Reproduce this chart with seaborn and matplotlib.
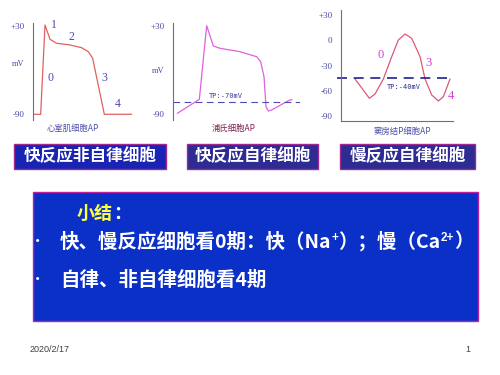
import matplotlib
matplotlib.use("Agg")
import matplotlib.pyplot as plt
import matplotlib.patches as mpatches
import seaborn as sns

# ---------------- data ----------------
# Panel 1: ventricular muscle cell AP (time ms, mV)
vent_t = [0, 23, 36, 51, 71, 111, 146, 166, 179, 214, 296]
vent_mv = [-90, -90, 31, 11.6, 6.2, 3.9, 0.2, -5.2, -14.2, -90, -90]

# Panel 2: Purkinje cell AP
purk_t = [13, 79, 101, 121, 141, 201, 251, 263, 273, 279, 286, 296, 346, 357]
purk_mv = [-88.7, -69.7, 30, 2.5, -0.6, -5.2, -12, -18.8, -39, -79.7, -85.5, -84.2, -71.6, -70]
purk_tp = -73

# Panel 3: SA node P cell AP
sa_t = [43, 86, 103, 128, 153, 173, 193, 213, 238, 253, 273, 293, 308, 328]
sa_mv = [-46, -69, -63.9, -46, -19.5, 0.3, 7.4, 2.3, -19.5, -46, -65, -72.2, -67, -46]
sa_tp = -45.2
sa_ticks = [30, 0, -30, -60, -90]
sa_ticklabels = ["+30", "0", "-30", "-60", "-90"]

panel_titles = ["心室肌细胞AP", "浦氏细胞AP", "窦房结P细胞AP"]
box_labels = ["快反应非自律细胞", "快反应自律细胞", "慢反应自律细胞"]
summary_title = "小结"
# bullet 1 pieces: (text, is_superscript)
bullet1 = [("快、慢反应细胞看0期：快（Na", False), ("+", True),
           ("）；慢（Ca", False), ("2+", True), ("）", False)]
bullet2 = "自律、非自律细胞看4期"
footer_date = "2020/2/17"
footer_page = "1"

# ---------------- setup ----------------
sns.set_style("white")
CJK = ["Noto Sans CJK SC", "DejaVu Sans"]
plt.rcParams["font.family"] = CJK

W, H = 500, 375
fig = plt.figure(figsize=(5, 3.75), dpi=100)
fig.patch.set_facecolor("white")

def rect(x0, y0, x1, y1):
    return [x0 / W, 1 - y1 / H, (x1 - x0) / W, (y1 - y0) / H]

def fx(x):
    return x / W

def fy(y):
    return 1 - y / H

AXC = "#707070"
LBL = "#4a4aa8"
SER = ["Liberation Serif", "DejaVu Serif"]

def style_axes(ax):
    for s in ["top", "right", "bottom"]:
        ax.spines[s].set_visible(False)
    ax.spines["left"].set_color(AXC)
    ax.spines["left"].set_linewidth(0.8)
    ax.set_facecolor("none")
    ax.set_xticks([])
    ax.tick_params(axis="y", direction="out", length=2, width=0.8, color=AXC,
                   labelsize=6.5, labelcolor=LBL, pad=4)
    for lab in ax.get_yticklabels():
        lab.set_family(SER)
    ax.set_xlabel("")
    ax.set_ylabel("")

# scale for panels 1-2: +30 at px 25.7, -90 at px 114.3
k = 120 / (114.3 - 25.7)
def mv12(px):
    return 30 - (px - 25.7) * k

# ---- panel 1 ----
ax1 = fig.add_axes(rect(33, 20, 136, 122))
sns.lineplot(x=vent_t, y=vent_mv, ax=ax1, color="#e06060", lw=0.9,
             sort=False, estimator=None)
ax1.set_xlim(0, (136 - 33) * 3)
ax1.set_ylim(mv12(122), mv12(20))
ax1.set_yticks([30, -90])
ax1.set_yticklabels(["+30", "-90"])
style_axes(ax1)
ax1.spines["left"].set_bounds(mv12(120), mv12(23))

for s, (x, y) in zip(["1", "2", "0", "3", "4"],
                     [(54, 25), (71, 37), (50, 78), (104, 78), (117.5, 104)]):
    fig.text(fx(x), fy(y), s, color=LBL, fontsize=8.5, family=SER,
             ha="center", va="center")
fig.text(fx(18), fy(64), "mV", color=LBL, fontsize=6, family=SER,
         ha="center", va="center")
fig.text(fx(73), fy(128), panel_titles[0], color="#5050a8", fontsize=6,
         ha="center", va="center")

# ---- panel 2 ----
ax2 = fig.add_axes(rect(173, 20, 300, 122))
sns.lineplot(x=purk_t, y=purk_mv, ax=ax2, color="#e060e0", lw=0.9,
             sort=False, estimator=None)
ax2.axhline(purk_tp, color="#4a4ab0", lw=0.8, ls=(0, (6, 4)))
ax2.set_xlim(0, (300 - 173) * 3)
ax2.set_ylim(mv12(122), mv12(20))
ax2.set_yticks([30, -90])
ax2.set_yticklabels(["+30", "-90"])
style_axes(ax2)
ax2.spines["left"].set_bounds(mv12(120), mv12(23))
fig.text(fx(209), fy(96), "TP:-70mV", color="#3a3aa0", fontsize=5,
         family=["DejaVu Sans Mono"], ha="left", va="center")
fig.text(fx(158), fy(71), "mV", color=LBL, fontsize=6, family=SER,
         ha="center", va="center")
fig.text(fx(234), fy(128), panel_titles[1], color="#802050", fontsize=6,
         ha="center", va="center")

# ---- panel 3 ----
k3 = 0.8417
def mv3(px):
    return 30 - (px - 15) / k3

ax3 = fig.add_axes(rect(340.7, 8, 462, 121))
sns.lineplot(x=sa_t, y=sa_mv, ax=ax3, color="#e05878", lw=0.9,
             sort=False, estimator=None)
ax3.axhline(sa_tp, xmin=-0.03, xmax=(453 - 340.7) / (462 - 340.7),
            color="#202090", lw=1.2, ls=(0, (6, 4)), clip_on=False)
ax3.set_xlim(0, (462 - 340.7) * 3)
ax3.set_ylim(mv3(121), mv3(8))
ax3.set_yticks(sa_ticks)
ax3.set_yticklabels(sa_ticklabels)
style_axes(ax3)
ax3.spines["left"].set_bounds(mv3(121), mv3(10))
ax3.spines["bottom"].set_visible(True)
ax3.spines["bottom"].set_color(AXC)
ax3.spines["bottom"].set_linewidth(0.8)
ax3.spines["bottom"].set_bounds(0, (453 - 340.7) * 3)
for s, (x, y) in zip(["0", "3", "4"], [(381, 55), (428, 63), (451, 96)]):
    fig.text(fx(x), fy(y), s, color="#d040d0", fontsize=9, family=SER,
             ha="center", va="center")
fig.text(fx(387), fy(87), "TP:-40mV", color="#2a2a90", fontsize=5,
         family=["DejaVu Sans Mono"], ha="left", va="center")
fig.text(fx(402), fy(131), panel_titles[2], color="#5050a8", fontsize=6,
         ha="center", va="center")

# ---------------- slide boxes ----------------
box_px = [(14, 144, 166, 169), (187, 144, 318, 169), (340, 144, 475, 169)]
box_fill = ["#1a24b2", "#2e2c92", "#2e2c92"]
for (x0, y0, x1, y1), fc, lab in zip(box_px, box_fill, box_labels):
    fig.patches.append(mpatches.Rectangle((fx(x0), fy(y1)), (x1 - x0) / W,
                                          (y1 - y0) / H, transform=fig.transFigure,
                                          facecolor=fc, edgecolor="#a02890", lw=1))
    fig.text(fx((x0 + x1) / 2), fy((y0 + y1) / 2), lab, color="white",
             fontsize=12, fontweight="bold", ha="center", va="center")

# big summary box
fig.patches.append(mpatches.Rectangle((fx(33), fy(321)), (478 - 33) / W,
                                      (321 - 192) / H, transform=fig.transFigure,
                                      facecolor="#0a30c8", edgecolor="#c020a0", lw=1))
fig.text(fx(77), fy(213), summary_title, color="#ffff40", fontsize=13,
         fontweight="bold", ha="left", va="center")
fig.text(fx(113), fy(213), "：", color="white", fontsize=13,
         fontweight="bold", ha="left", va="center")

# bullets
for y in [242, 280]:
    fig.text(fx(38), fy(y), "•", color="white", fontsize=11, ha="center",
             va="center")

renderer = fig.canvas.get_renderer()
t0 = fig.text(fx(60), fy(242), bullet1[0][0], color="white", fontsize=14,
              fontweight="bold", ha="left", va="center")
bb = t0.get_window_extent(renderer)
xcur, ybot, hgt = bb.x1, bb.y0, bb.height
for txt, sup in bullet1[1:]:
    if sup:
        t = fig.text(xcur / W, (ybot + 0.42 * hgt) / H, txt, color="white",
                     fontsize=8.5, fontweight="bold", ha="left", va="bottom",
                     family=["Liberation Sans", "DejaVu Sans"])
    else:
        t = fig.text(xcur / W, ybot / H, txt, color="white", fontsize=14,
                     fontweight="bold", ha="left", va="bottom")
    xcur = t.get_window_extent(renderer).x1

fig.text(fx(60), fy(280), bullet2, color="white", fontsize=14,
         fontweight="bold", ha="left", va="center")

# footer
fig.text(fx(30), fy(349), footer_date, color="#404040", fontsize=6.5,
         family=["Liberation Sans"], ha="left", va="center")
fig.text(fx(470), fy(349), footer_page, color="#404040", fontsize=6.5,
         family=["Liberation Sans"], ha="right", va="center")

fig.savefig("out.png", dpi=100, facecolor="white")
